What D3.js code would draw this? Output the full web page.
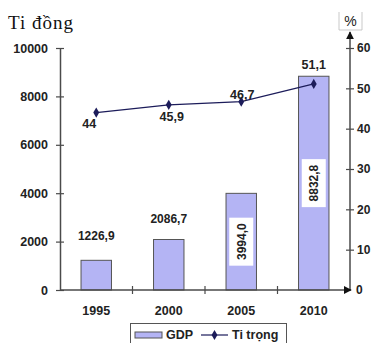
<!DOCTYPE html>
<html>
<head>
<meta charset="utf-8">
<script src="https://cdn.jsdelivr.net/npm/d3@7"></script>
<style>
  html, body { margin: 0; padding: 0; background: #fff; }
  svg { display: block; }
  .lbl { font-family: 'Liberation Sans', Arial, sans-serif; font-weight: bold; fill: #222; }
</style>
</head>
<body>
<svg id="chart" width="371" height="343"></svg>
<script>
// GDP (tỉ đồng) and share (%) by year
const years = ["1995", "2000", "2005", "2010"];
const gdp = [1226.9, 2086.7, 3994.0, 8832.8];
const gdpLabels = ["1226,9", "2086,7", "3994,0", "8832,8"];
const share = [44, 45.9, 46.7, 51.1];
const shareLabels = ["44", "45,9", "46,7", "51,1"];
const leftTicks = [0, 2000, 4000, 6000, 8000, 10000];
const rightTicks = [0, 10, 20, 30, 40, 50, 60];

const svg = d3.select("#chart");
const plotLeft = 60, plotRight = 350, plotBottom = 290, plotTop = 48;
const axisColor = "#4a4a4a";
const barFill = "#b4b4f4";
const lineColor = "#1c1c5a";

const x = d3.scaleBand().domain(years).range([plotLeft, plotRight])
  .paddingInner(0.58).paddingOuter(0.29);
const step = x.step();
const y = d3.scaleLinear().domain([0, 10000]).range([plotBottom, plotTop]);
const y2 = d3.scaleLinear().domain([0, 60]).range([plotBottom, plotTop]);

// Title
svg.append("text").attr("x", 8).attr("y", 29)
  .attr("font-family", "'Liberation Serif', 'Times New Roman', serif")
  .attr("font-size", 19).attr("letter-spacing", 1)
  .attr("fill", "#111").text("Ti đồng");

// Bars
svg.append("g").selectAll("rect").data(years).join("rect")
  .attr("x", d => x(d)).attr("width", x.bandwidth())
  .attr("y", (d, i) => y(gdp[i]))
  .attr("height", (d, i) => plotBottom - y(gdp[i]))
  .attr("fill", barFill).attr("stroke", "#555").attr("stroke-width", 1);

// Left axis
const gL = svg.append("g").attr("transform", `translate(${plotLeft},0)`)
  .call(d3.axisLeft(y).tickValues(leftTicks).tickFormat(d3.format("d"))
    .tickSize(4).tickPadding(8).tickSizeOuter(0));
gL.select(".domain").attr("stroke", axisColor).attr("stroke-width", 1.5);
gL.selectAll(".tick line").attr("x2", 4).attr("x1", -4).attr("stroke", axisColor).attr("stroke-width", 1.2);
gL.selectAll(".tick text").attr("class", "lbl").style("font-size", "12.5px");

// Arrow head used by the right and bottom axes
const defs = svg.append("defs");
defs.append("marker").attr("id", "arrow").attr("viewBox", "0 0 10 10")
  .attr("refX", 9).attr("refY", 5).attr("markerWidth", 8).attr("markerHeight", 8)
  .attr("markerUnits", "userSpaceOnUse").attr("orient", "auto")
  .append("path").attr("d", "M0,0L10,5L0,10Z").attr("fill", "#111");

// Right axis
const gR = svg.append("g").attr("transform", `translate(${plotRight},0)`)
  .call(d3.axisRight(y2).tickValues(rightTicks).tickFormat(d3.format("d"))
    .tickSize(4).tickPadding(3).tickSizeOuter(0));
gR.select(".domain").remove();
gR.selectAll(".tick line").attr("x1", -4).attr("x2", 4).attr("stroke", axisColor).attr("stroke-width", 1.2);
gR.selectAll(".tick text").attr("class", "lbl").style("font-size", "12px");
gR.selectAll(".tick").filter(d => d === 0).select("line").remove();
gR.selectAll(".tick").filter(d => d === 0).select("text").attr("x", 6);
svg.append("line").attr("x1", plotRight).attr("x2", plotRight).attr("y1", plotBottom).attr("y2", 32)
  .attr("stroke", axisColor).attr("stroke-width", 1.5).attr("marker-end", "url(#arrow)");

// % label in its box
svg.append("path").attr("d", "M339,12V30M362,12V30M339,30H362")
  .attr("stroke", "#bbb").attr("fill", "none").attr("stroke-width", 0.8);
svg.append("text").attr("x", 350.5).attr("y", 26).attr("text-anchor", "middle")
  .attr("font-family", "'Liberation Sans', Arial, sans-serif").attr("font-size", 14)
  .attr("fill", "#222").text("%");

// Bottom axis
svg.append("line").attr("x1", plotLeft).attr("x2", plotRight + 1).attr("y1", plotBottom).attr("y2", plotBottom)
  .attr("stroke", axisColor).attr("stroke-width", 1.5).attr("marker-end", "url(#arrow)");
const catTicks = d3.range(1, years.length).map(k => plotLeft + step * k);
svg.append("g").selectAll("line").data(catTicks).join("line")
  .attr("x1", d => d).attr("x2", d => d).attr("y1", plotBottom - 4).attr("y2", plotBottom + 4)
  .attr("stroke", axisColor).attr("stroke-width", 1.2);
svg.append("g").selectAll("text").data(years).join("text")
  .attr("class", "lbl").style("font-size", "12.5px")
  .attr("x", d => x(d) + x.bandwidth() / 2).attr("y", 315)
  .attr("text-anchor", "middle").text(d => d);

// Bar value labels: above short bars, rotated in a white box inside tall bars
const cx = d => x(d) + x.bandwidth() / 2;
years.forEach((d, i) => {
  if (i < 2) {
    svg.append("text").attr("class", "lbl").style("font-size", "12px")
      .attr("x", cx(d)).attr("y", y(gdp[i]) - 17 - (i === 0 ? 3 : 0))
      .attr("text-anchor", "middle").text(gdpLabels[i]);
  } else {
    const my = (y(gdp[i]) + plotBottom) / 2;
    const g = svg.append("g").attr("transform", `translate(${cx(d)},${my}) rotate(-90)`);
    g.append("rect").attr("x", -24).attr("y", -12).attr("width", 48).attr("height", 24).attr("fill", "#fff");
    g.append("text").attr("class", "lbl").style("font-size", "12px")
      .attr("x", 0).attr("y", 4.5).attr("text-anchor", "middle").text(gdpLabels[i]);
  }
});

// Share line
const line = d3.line().x((d, i) => cx(years[i])).y(d => y2(d));
svg.append("path").datum(share).attr("d", line)
  .attr("fill", "none").attr("stroke", lineColor).attr("stroke-width", 1.2);
const diamond = d3.symbol().type(d3.symbolDiamond).size(30);
svg.append("g").selectAll("path").data(share).join("path")
  .attr("d", diamond)
  .attr("transform", (d, i) => `translate(${cx(years[i])},${y2(d)})`)
  .attr("fill", lineColor);

// Share labels
const shareOffsets = [[-7, 15], [3, 16], [1, -3], [0, -15]];
svg.append("g").selectAll("text").data(share).join("text")
  .attr("class", "lbl").style("font-size", "12.5px")
  .attr("x", (d, i) => cx(years[i]) + shareOffsets[i][0])
  .attr("y", (d, i) => y2(d) + shareOffsets[i][1])
  .attr("text-anchor", "middle").text((d, i) => shareLabels[i]);

// Legend
const lg = svg.append("g");
lg.append("rect").attr("x", 130.5).attr("y", 323.5).attr("width", 156).attr("height", 24)
  .attr("fill", "#fff").attr("stroke", "#555").attr("stroke-width", 1);
lg.append("rect").attr("x", 135).attr("y", 332).attr("width", 27).attr("height", 6)
  .attr("fill", barFill).attr("stroke", "#555").attr("stroke-width", 1);
lg.append("text").attr("class", "lbl").style("font-size", "12.5px")
  .attr("x", 166).attr("y", 339).text("GDP");
lg.append("line").attr("x1", 201).attr("x2", 228).attr("y1", 335).attr("y2", 335)
  .attr("stroke", lineColor).attr("stroke-width", 1.2);
lg.append("path").attr("d", diamond).attr("transform", "translate(214.5,335)").attr("fill", lineColor);
lg.append("text").attr("class", "lbl").style("font-size", "12.5px")
  .attr("x", 232).attr("y", 339).text("Ti trọng");
</script>
</body>
</html>
